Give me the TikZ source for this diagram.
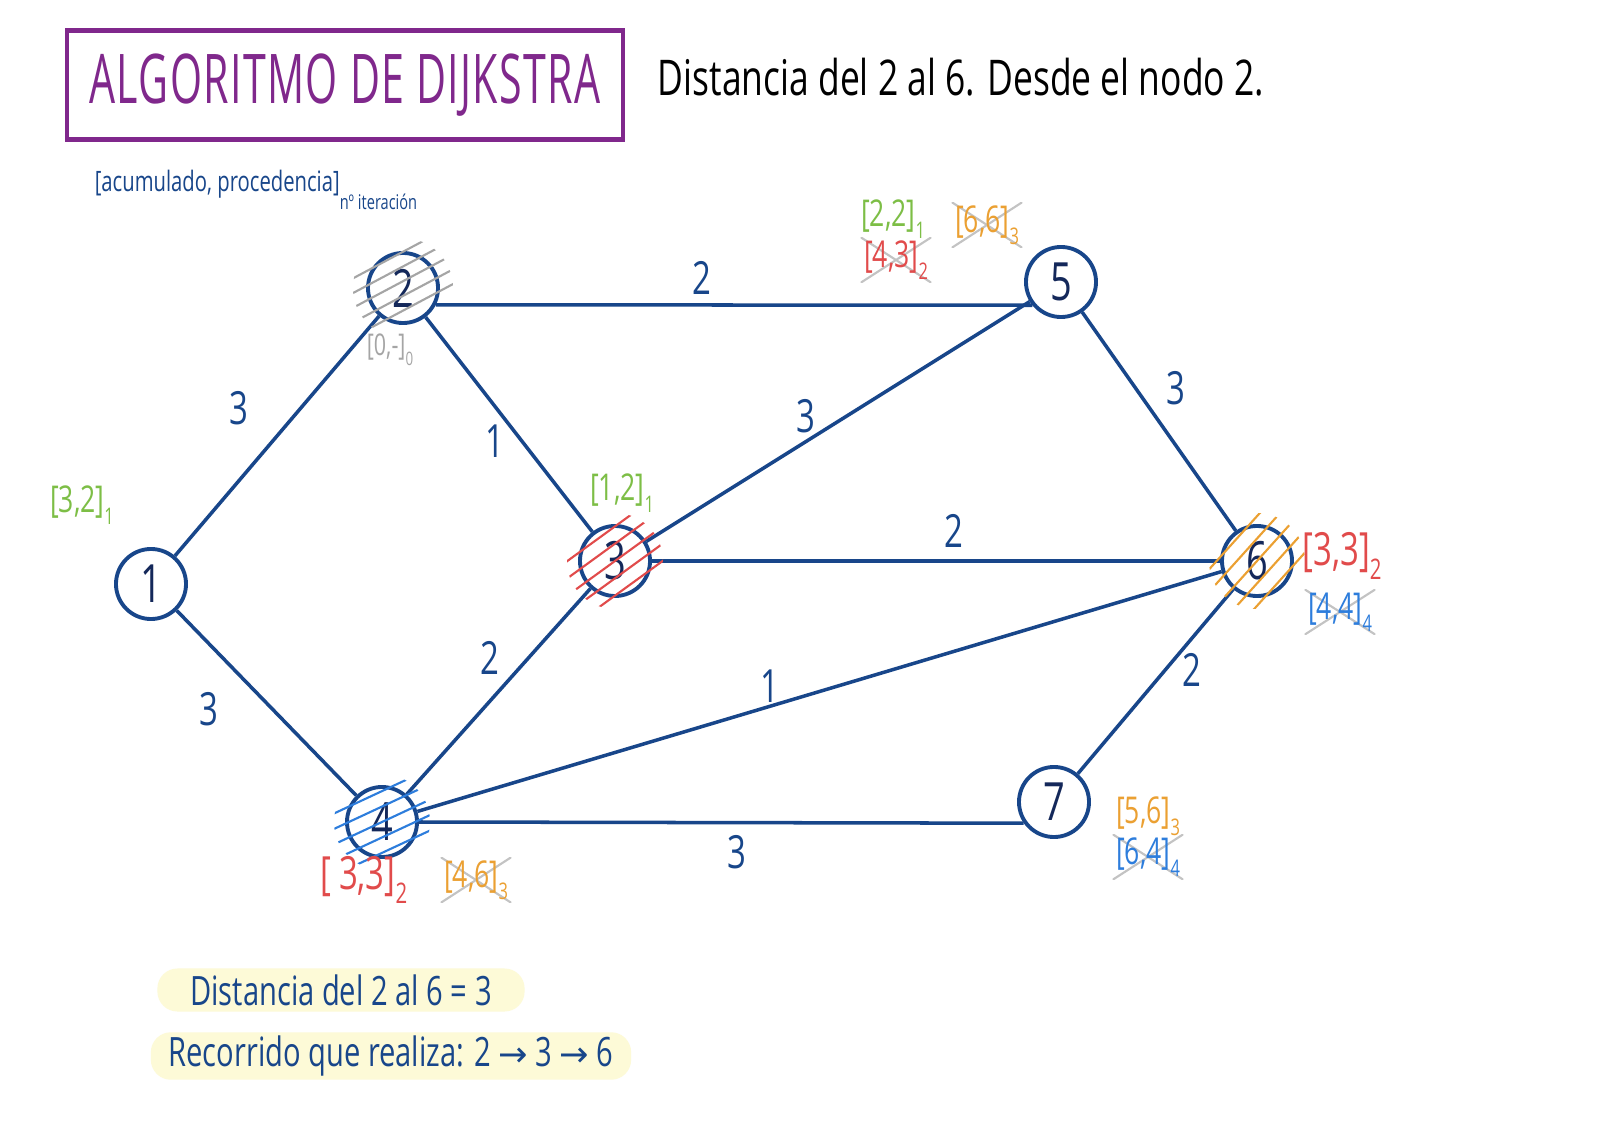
\documentclass[tikz,border=0pt]{standalone}
\usepackage{fontspec}
\setmainfont{Open Sans}[FakeStretch=0.72]
\newfontfamily\titlefont{Open Sans}[FakeStretch=0.6, LetterSpace=2]
\newfontfamily\symfont{DejaVu Sans}
\usetikzlibrary{positioning}
\definecolor{dkBlue}{RGB}{24,70,138}
\definecolor{inkBlue}{RGB}{20,40,90}
\definecolor{titlePurple}{RGB}{128,40,140}
\definecolor{tagGreen}{RGB}{125,190,70}
\definecolor{tagOrange}{RGB}{235,160,50}
\definecolor{tagRed}{RGB}{225,75,75}
\definecolor{tagBlue}{RGB}{45,125,220}
\definecolor{tagGray}{RGB}{165,165,165}
\definecolor{crossGray}{RGB}{195,195,195}
\definecolor{hlYellow}{RGB}{253,250,215}
\newcommand{\fsz}[2]{\fontsize{#1}{#2}\selectfont}
\newcommand{\lab}[2]{[#1]\raisebox{-0.6ex}{\scalebox{0.62}{#2}}}

\begin{document}
\begin{tikzpicture}[
    x=0.01cm, y=-0.01cm,
    vert/.style  ={circle, draw=dkBlue, line width=1.1pt, minimum size=0.7cm, inner sep=0pt, text=inkBlue, font=\fsz{15}{18}},
    edge/.style  ={draw=dkBlue, line width=1pt},
    weight/.style={text=dkBlue, font=\fsz{13}{15}},
    tag/.style   ={inner sep=1pt, font=\fsz{10.5}{12}, text=#1},
    bigtag/.style={inner sep=1pt, font=\fsz{13}{15}, text=#1},
    struck/.style={path picture={\draw[crossGray, line width=0.6pt] (path picture bounding box.south west) -- (path picture bounding box.north east) (path picture bounding box.north west) -- (path picture bounding box.south east);}},
    hatch/.style ={draw=#1, line width=0.6pt},
    note/.style  ={fill=hlYellow, rounded corners=0.2cm, text=dkBlue, font=\fsz{11.5}{13}, inner ysep=1pt}
]
\useasboundingbox[fill=white] (0,0) rectangle (1600,1131);

\node[draw=titlePurple, line width=1.2pt, minimum width=5.55cm, minimum height=1.09cm, text=titlePurple, font=\titlefont\fsz{19.5}{24}] (title) at (345,85) {ALGORITMO DE DIJKSTRA};
\node[font=\fsz{14}{16}] (sub) at (961,77) {Distancia del 2 al 6. Desde el nodo 2.};
\node[text=dkBlue, font=\fsz{8}{10}] (key) at (256,190) {[acumulado, procedencia]\raisebox{-1.2ex}{\scalebox{0.72}{nº iteración}}};

\node[vert] (n1) at (151,584) {1};
\node[vert] (n2) at (403,288) {2};
\node[vert] (n3) at (615,561) {3};
\node[vert] (n4) at (382,822) {4};
\node[vert] (n5) at (1061,282) {5};
\node[vert] (n6) at (1257,561) {6};
\node[vert] (n7) at (1054,802) {7};

\draw[edge] (n1) -- (n2);
\draw[edge] (n1) -- (n4);
\draw[edge] (n2.-27) -- (n5.219);
\draw[edge] (n2) -- (n3);
\draw[edge] (n3) -- (n4);
\draw[edge] (n3) -- (n5);
\draw[edge] (n3) -- (n6);
\draw[edge] (n4) -- (n6);
\draw[edge] (n4.east) -- (n7.215);
\draw[edge] (n5) -- (n6);
\draw[edge] (n6) -- (n7);

\node[weight] (w12) at (239,408) {3};
\node[weight] (w14) at (209,709) {3};
\node[weight] (w25) at (702,278) {2};
\node[weight] (w23) at (495,441) {1};
\node[weight] (w35) at (806,416) {3};
\node[weight] (w36) at (954,531) {2};
\node[weight] (w56) at (1176,388) {3};
\node[weight] (w34) at (490,658) {2};
\node[weight] (w46) at (770,686) {1};
\node[weight] (w47) at (737,852) {3};
\node[weight] (w67) at (1192,670) {2};

\begin{scope}[shift={(n2)}, rotate=28]
  \clip (0,0) circle (0.5cm);
  \foreach \d in {-32,-19,...,32} \draw[hatch=tagGray] (-60,\d) -- (60,\d);
\end{scope}
\begin{scope}[shift={(n3)}, rotate=36]
  \clip (0,0) circle (0.48cm);
  \foreach \d in {-28,-14,...,28} \draw[hatch=tagRed] (-60,\d) -- (60,\d);
\end{scope}
\begin{scope}[shift={(n4)}, rotate=25]
  \clip (0,0) circle (0.48cm);
  \foreach \d in {-28,-14,...,28} \draw[hatch=tagBlue] (-60,\d) -- (60,\d);
\end{scope}
\begin{scope}[shift={(n6)}, rotate=48]
  \clip (0,0) circle (0.48cm);
  \foreach \d in {-30,-15,...,30} \draw[hatch=tagOrange] (-60,\d) -- (60,\d);
\end{scope}

\node[tag=tagGreen] (t1) at (82,505) {\lab{3,2}{1}};
\node[tag=tagGray, font=\fsz{8.5}{10}] (t2) at (390,350) {\lab{0,-}{0}};
\node[tag=tagGreen] (t3) at (622,493) {\lab{1,2}{1}};
\node[tag=tagGreen] (t5a) at (893,219) {\lab{2,2}{1}};
\node[tag=tagOrange, struck] (t5b) at (987,225) {\lab{6,6}{3}};
\node[tag=tagRed, struck] (t5c) at (896,260) {\lab{4,3}{2}};
\node[bigtag=tagRed] (t6a) at (1342,556) {\lab{3,3}{2}};
\node[tag=tagBlue, struck] (t6b) at (1340,612) {\lab{4,4}{4}};
\node[bigtag=tagRed] (t4a) at (364,880) {\lab{\,3,3}{2}};
\node[tag=tagOrange, struck] (t4b) at (476,880) {\lab{4,6}{3}};
\node[tag=tagOrange] (t7a) at (1148,816) {\lab{5,6}{3}};
\node[tag=tagBlue, struck] (t7b) at (1148,857) {\lab{6,4}{4}};

\node[note, minimum width=3.67cm, minimum height=0.43cm] (dist) at (341,990) {Distancia del 2 al 6 = 3};
\node[note, minimum width=4.8cm, minimum height=0.45cm] (route) at (391,1056) {Recorrido que realiza: 2 {\symfont\fsz{10}{12}→} 3 {\symfont\fsz{10}{12}→} 6};
\end{tikzpicture}
\end{document}
